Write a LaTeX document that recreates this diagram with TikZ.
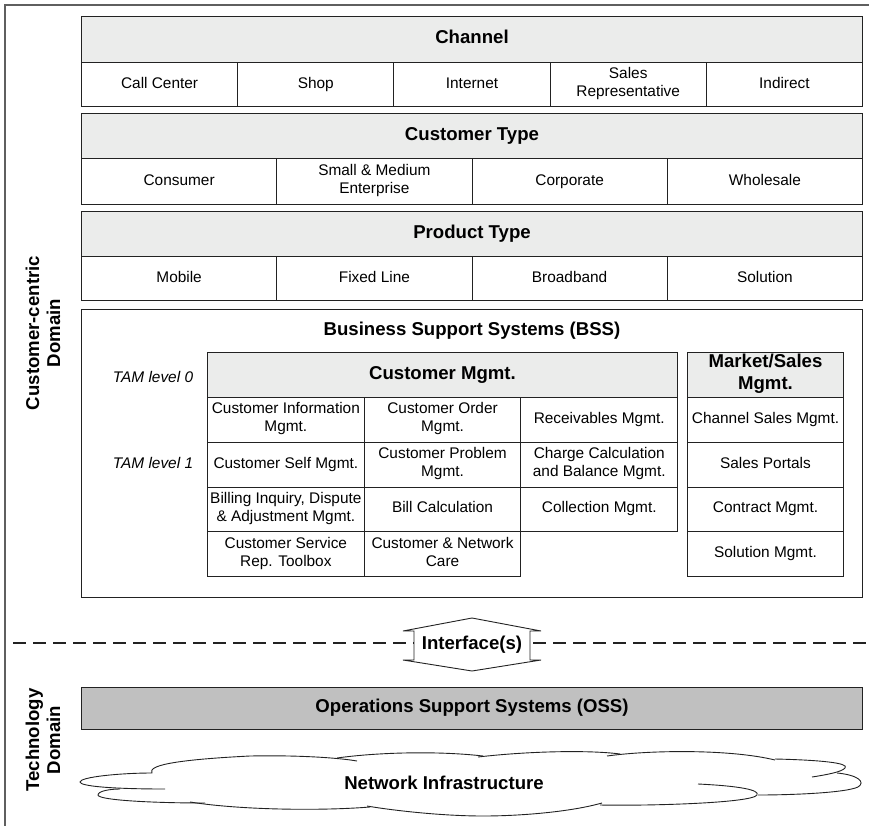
\documentclass[tikz,border=0pt]{standalone}
\usepackage{fontspec}
\setmainfont{Liberation Sans}
\usetikzlibrary{positioning,calc}

\definecolor{headgray}{RGB}{235,236,235}
\definecolor{ossgray}{RGB}{192,192,192}
\definecolor{linecol}{RGB}{34,34,34}
\definecolor{framecol}{RGB}{95,95,95}

\tikzset{
  cell/.style={draw=linecol, line width=1pt, inner sep=0.5pt, align=center,
    anchor=north west, font=\fontsize{15.4}{18}\selectfont,
    execute at begin node=\strut, execute at end node=\strut},
  boldtext/.style={font=\bfseries\fontsize{18.6}{22}\selectfont},
  head/.style={cell, fill=headgray, boldtext},
  sidelabel/.style={rotate=90, align=center, font=\bfseries\fontsize{18.6}{21}\selectfont},
  tamlabel/.style={font=\itshape\fontsize{15.4}{18}\selectfont},
  cloudline/.style={line width=0.9pt, draw=linecol}
}

\begin{document}
\begin{tikzpicture}[x=1pt, y=-1pt]
    \useasboundingbox (0,0) rectangle (869,826);
    \draw[framecol, line width=1.5pt] (5,826) -- (5,5) -- (869,5);

    % Side labels
    \node[sidelabel] (ccdomain) at (43,333) {Customer-centric\\Domain};
    \node[sidelabel] (techdomain) at (43,740) {Technology\\Domain};

    % Channel
    \node[head, minimum width=781pt, minimum height=46pt] (channel) at (81,16) {Channel};
    \foreach \i/\txt in {1/Call Center, 2/Shop, 3/Internet, 4/{Sales\\Representative}, 5/Indirect}
        \node[cell, minimum width=156.2pt, minimum height=44pt] (ch\i) at ({81+(\i-1)*156.2}, 62) {\txt};

    % Customer type
    \node[head, minimum width=781pt, minimum height=45pt] (custtype) at (81,113) {Customer Type};
    \foreach \i/\txt in {1/Consumer, 2/{Small \& Medium\\Enterprise}, 3/Corporate, 4/Wholesale}
        \node[cell, minimum width=195.25pt, minimum height=46pt] (ct\i) at ({81+(\i-1)*195.25}, 158) {\txt};

    % Product type
    \node[head, minimum width=781pt, minimum height=45pt] (prodtype) at (81,211) {Product Type};
    \foreach \i/\txt in {1/Mobile, 2/Fixed Line, 3/Broadband, 4/Solution}
        \node[cell, minimum width=195.25pt, minimum height=44pt] (pt\i) at ({81+(\i-1)*195.25}, 256) {\txt};

    % BSS
    \node[cell, minimum width=781pt, minimum height=288pt] (bss) at (81,309) {};
    \node[boldtext] (bsstitle) at (472,331) {Business Support Systems (BSS)};
    \node[tamlabel] (tam0) at (153,377) {TAM level 0};
    \node[tamlabel] (tam1) at (153,463) {TAM level 1};

    % Customer Mgmt. (row/column/label)
    \node[head, minimum width=470pt, minimum height=45pt] (custmgmt) at (207,352) {Customer Mgmt.};
    \foreach \r/\c/\txt in {1/1/{Customer Information\\Mgmt.}, 2/1/Customer Self Mgmt.,
                            3/1/{Billing Inquiry, Dispute\\\& Adjustment Mgmt.}, 4/1/{Customer Service\\Rep. Toolbox},
                            1/2/{Customer Order\\Mgmt.}, 2/2/{Customer Problem\\Mgmt.},
                            3/2/Bill Calculation, 4/2/{Customer \& Network\\Care},
                            1/3/Receivables Mgmt., 2/3/{Charge Calculation\\and Balance Mgmt.},
                            3/3/Collection Mgmt.}
        \node[cell, minimum width=156.7pt, minimum height=44.75pt] (cm\r\c) at ({207+(\c-1)*156.7}, {397+(\r-1)*44.75}) {\txt};

    % Market/Sales Mgmt.
    \node[head, minimum width=156pt, minimum height=45pt] (salesmgmt) at (687,352) {Market/Sales\\Mgmt.};
    \foreach \r/\txt in {1/Channel Sales Mgmt., 2/Sales Portals, 3/Contract Mgmt., 4/Solution Mgmt.}
        \node[cell, minimum width=156pt, minimum height=44.75pt] (ms\r) at (687, {397+(\r-1)*44.75}) {\txt};

    % Domain border with interface
    \coordinate (dl) at (13,643);
    \coordinate (dr) at (869,643);
    \draw[linecol, line width=2pt, dash pattern=on 13pt off 7pt] (dl) -- (dr);
    \draw[linecol, line width=0.9pt, fill=white] (403,631) -- (472,618) -- (541,631) -- (530,631) -- (530,660)
        -- (541,660) -- (472,671) -- (403,660) -- (414,660) -- (414,631) -- cycle;
    \node[boldtext] (iface) at (472,645) {Interface(s)};

    % OSS
    \node[cell, boldtext, fill=ossgray, minimum width=781pt, minimum height=42pt] (oss) at (81,687) {Operations Support Systems (OSS)};

    % Network cloud
    \draw[cloudline] (165,789) .. controls (110,789) and (80,786) .. (80,782) .. controls (80,777) and (120,773) .. (152,773)
        .. controls (148,766) and (170,760) .. (250,756) .. controls (300,755) and (340,758) .. (357,761);
    \draw[cloudline] (337,758) .. controls (380,752) and (440,751) .. (483,756);
    \draw[cloudline] (478,757) .. controls (530,751) and (590,750) .. (620,754);
    \draw[cloudline] (607,756) .. controls (650,750) and (730,749) .. (775,760);
    \draw[cloudline] (775,759) .. controls (820,760) and (850,763) .. (845,768) .. controls (842,772) and (825,775) .. (812,777);
    \draw[cloudline] (837,773) .. controls (858,775) and (866,782) .. (858,787) .. controls (845,793) and (790,795) .. (758,795);
    \draw[cloudline] (698,784) .. controls (740,786) and (760,790) .. (757,795) .. controls (752,803) and (650,806) .. (600,805);
    \draw[cloudline] (602,803) .. controls (570,812) and (520,816) .. (483,816) .. controls (440,816) and (390,810) .. (367,806);
    \draw[cloudline] (370,807) .. controls (320,811) and (240,810) .. (190,802);
    \draw[cloudline] (205,803) .. controls (150,803) and (98,800) .. (98,795) .. controls (98,791) and (110,789) .. (120,789);
    \node[boldtext] (network) at (444,783) {Network Infrastructure};
\end{tikzpicture}
\end{document}
